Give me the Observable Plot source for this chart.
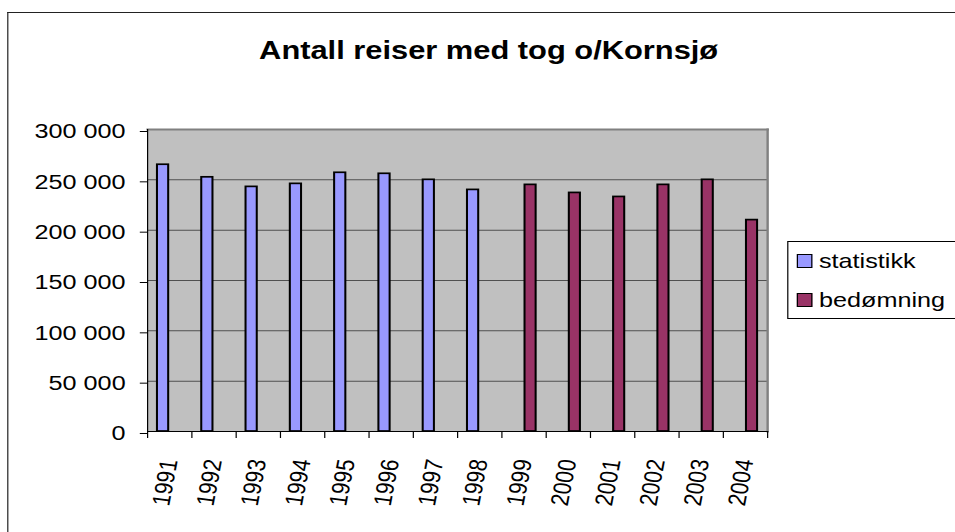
<!DOCTYPE html>
<html><head><meta charset="utf-8">
<script src="https://cdn.jsdelivr.net/npm/d3@7"></script>
<script src="https://cdn.jsdelivr.net/npm/@observablehq/plot@0.6"></script>
<style>
html,body{margin:0;padding:0;background:#fff;overflow:hidden}
#wrap{position:relative;width:796px;height:532px;transform:scaleX(1.2);transform-origin:0 0;font-family:"Liberation Sans",Arial,sans-serif;color:#000}
#frame{position:absolute;left:6px;top:12px;width:900px;height:700px;border-left:1px solid #222;border-top:1px solid #222}
#chart{position:absolute;left:0;top:0}
#legend{position:absolute;left:656px;top:241px;width:200px;height:76px;border:1px solid #000;background:#fff}
.item{position:absolute;left:0;height:21px;font-size:21px;line-height:21px;white-space:nowrap}
.sw{position:absolute;left:7px;width:11px;height:12px;border:1.4px solid #000}
.lab{position:absolute;left:25.5px;top:0}
</style>
</head><body>
<div id="wrap"><div id="frame"></div><div id="chart"></div><div id="legend"></div></div>
<script>
const title = "Antall reiser med tog o/Kornsjø";
const years = ["1991","1992","1993","1994","1995","1996","1997","1998","1999","2000","2001","2002","2003","2004"];
const statistikk = [265000,252500,243000,246000,257000,256000,250000,240000,null,null,null,null,null,null];
const bedomning  = [null,null,null,null,null,null,null,null,245000,237000,233000,245000,250000,210000];
const seriesNames = ["statistikk","bedømning"];
const seriesColors = ["#9999ff","#993366"];
const yTicks = [0,50000,100000,150000,200000,250000,300000];

const W = 796, H = 532, ML = 122.5, MR = 796 - 639.2, MT = 129, MB = 532 - 431;
const bw = (W - ML - MR) / years.length;
const fmt = d3.formatLocale({decimal: ",", thousands: " ", grouping: [3], currency: ["", ""]}).format(",");

const statRows = years.map((y, i) => ({year: y, value: statistikk[i]})).filter(d => d.value != null);
const bedRows = years.map((y, i) => ({year: y, value: bedomning[i]})).filter(d => d.value != null);

const chart = Plot.plot({
  width: W, height: H,
  marginLeft: ML, marginRight: MR, marginTop: MT, marginBottom: MB,
  style: {fontFamily: "'Liberation Sans', Arial, sans-serif", fontSize: "21px", color: "#000", background: "transparent", overflow: "visible"},
  x: {type: "band", domain: years, padding: 0, round: false},
  y: {domain: [0, 300000]},
  marks: [
    Plot.frame({fill: "#c0c0c0", stroke: null}),
    Plot.gridY(yTicks, {stroke: "#505050", strokeOpacity: 1, strokeWidth: 1}),
    Plot.frame({anchor: "top", stroke: "#808080", strokeWidth: 2}),
    Plot.frame({anchor: "right", stroke: "#808080", strokeWidth: 2}),
    Plot.barY(statRows, {x: "year", y: "value", fill: seriesColors[0], stroke: "#000", strokeWidth: 1.7, insetLeft: 8.3, insetRight: bw - 18.5 + 0.85}),
    Plot.barY(bedRows, {x: "year", y: "value", fill: seriesColors[1], stroke: "#000", strokeWidth: 1.7, insetLeft: 18.5 + 0.85, insetRight: 8.3}),
    Plot.frame({anchor: "left", stroke: "#000", strokeWidth: 1}),
    Plot.frame({anchor: "bottom", stroke: "#000", strokeWidth: 1}),
    Plot.axisY(yTicks, {tickSize: 6, tickPadding: 12.3, tickFormat: fmt, fontSize: 21, dy: 2, label: null}),
    Plot.axisX({tickSize: 0, tickRotate: -81, tickPadding: 28, fontSize: 21, label: null}),
    Plot.axisX(years, {tickSize: 7, tickFormat: () => "", dx: -bw / 2, label: null}),
    Plot.axisX([years[years.length - 1]], {tickSize: 7, tickFormat: () => "", dx: bw / 2, label: null}),
    Plot.text([title], {frameAnchor: "top", dx: 406.7 - (ML + (W - ML - MR) / 2), dy: 58 - MT, lineAnchor: "bottom", fontSize: 25.7, fontWeight: "bold", fill: "#000"})
  ]
});
document.getElementById("chart").appendChild(chart);

const legend = document.getElementById("legend");
const baselines = [267.7 - 241, 307 - 241];
seriesNames.forEach((name, i) => {
  const it = document.createElement("div");
  it.className = "item";
  it.style.top = (baselines[i] - 17.8 - 1) + "px";
  const sw = document.createElement("div");
  sw.className = "sw";
  sw.style.background = seriesColors[i];
  sw.style.top = "4px";
  const lab = document.createElement("span");
  lab.className = "lab";
  lab.textContent = name;
  it.appendChild(sw); it.appendChild(lab);
  legend.appendChild(it);
});
</script>
</body></html>
